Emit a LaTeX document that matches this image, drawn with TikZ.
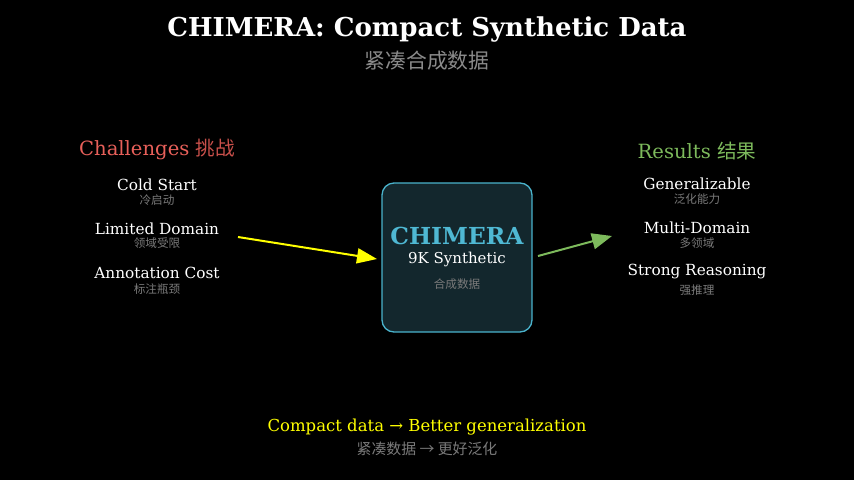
\documentclass[tikz,border=0pt]{standalone}
\usepackage{fontspec}
\setmainfont{DejaVu Serif}
\newfontfamily\cjk{Noto Sans CJK SC}
\usetikzlibrary{arrows.meta}
\definecolor{bgc}{HTML}{000000}
\definecolor{chal}{HTML}{E8605A}
\definecolor{chalzh}{HTML}{C9504B}
\definecolor{res}{HTML}{7DBA5C}
\definecolor{boxfill}{HTML}{13272D}
\definecolor{boxline}{HTML}{4AB3CC}
\definecolor{boxtext}{HTML}{4FB8D3}
\definecolor{subgray}{HTML}{8A8A8A}
\definecolor{dimgray}{HTML}{7A7A7A}
\definecolor{ylw}{HTML}{FFFF00}
\tikzset{
  item/.style={text=white, font=\fontsize{15.3}{17}\selectfont, inner sep=0pt, anchor=center},
  itemzh/.style={text=dimgray, font=\cjk\fontsize{11.6}{13}\selectfont, inner sep=0pt, anchor=center},
  head/.style={font=\fontsize{19.6}{22}\selectfont, inner sep=0pt, anchor=center},
}
\begin{document}
\begin{tikzpicture}[x=1pt,y=-1pt]
\fill[bgc] (0,0) rectangle (854,480);
\useasboundingbox (0,0) rectangle (854,480);
% title
\node[text=white, font=\bfseries\fontsize{26}{29}\selectfont, inner sep=0pt] (title) at (427,30) {CHIMERA: Compact Synthetic Data};
\node[text=subgray, font=\cjk\fontsize{20.8}{23}\selectfont, inner sep=0pt] (subtitle) at (427,61) {紧凑合成数据};
% challenges
\node[head] (chead) at (157,149.5) {\textcolor{chal}{Challenges} \textcolor{chalzh}{\cjk 挑战}};
\node[item] (c1) at (157,184.5) {Cold Start};
\node[itemzh] (c1z) at (157,200) {冷启动};
\node[item] (c2) at (157,228.5) {Limited Domain};
\node[itemzh] (c2z) at (157,243) {领域受限};
\node[item] (c3) at (157,272.5) {Annotation Cost};
\node[itemzh] (c3z) at (157,289) {标注瓶颈};
% center box
\node[draw=boxline, line width=1.3pt, fill=boxfill, rounded corners=12pt, minimum width=150pt, minimum height=149pt, inner sep=0pt] (box) at (457,257.5) {};
\node[text=boxtext, font=\bfseries\fontsize{23.4}{26}\selectfont, inner sep=0pt] (bt) at (457,236) {CHIMERA};
\node[text=white, font=\fontsize{15}{17}\selectfont, inner sep=0pt] (bs) at (457,259) {9K Synthetic};
\node[itemzh] (bz) at (457,284) {合成数据};
% results
\node[head] (rhead) at (697,151) {\textcolor{res}{Results \cjk 结果}};
\node[item] (r1) at (697,183.5) {Generalizable};
\node[itemzh] (r1z) at (697,199) {泛化能力};
\node[item] (r2) at (697,227.5) {Multi-Domain};
\node[itemzh] (r2z) at (697,243) {多领域};
\node[item] (r3) at (697,271.5) {Strong Reasoning};
\node[itemzh] (r3z) at (697,290.5) {强推理};
% arrows
\coordinate (a1s) at (238,237);
\coordinate (a1e) at (377,259);
\draw[ylw, line width=2pt, -{Triangle[length=20pt,width=15pt]}] (a1s) -- (a1e);
\coordinate (a2s) at (538,256);
\coordinate (a2e) at (612,236);
\draw[res, line width=2pt, -{Triangle[length=20pt,width=16pt]}] (a2s) -- (a2e);
% bottom
\node[text=ylw, font=\fontsize{16.5}{18}\selectfont, inner sep=0pt] (b1) at (427,427) {Compact data → Better generalization};
\node[text=dimgray, font=\cjk\fontsize{14.9}{17}\selectfont, inner sep=0pt] (b2) at (427,449) {紧凑数据 → 更好泛化};
\end{tikzpicture}
\end{document}
